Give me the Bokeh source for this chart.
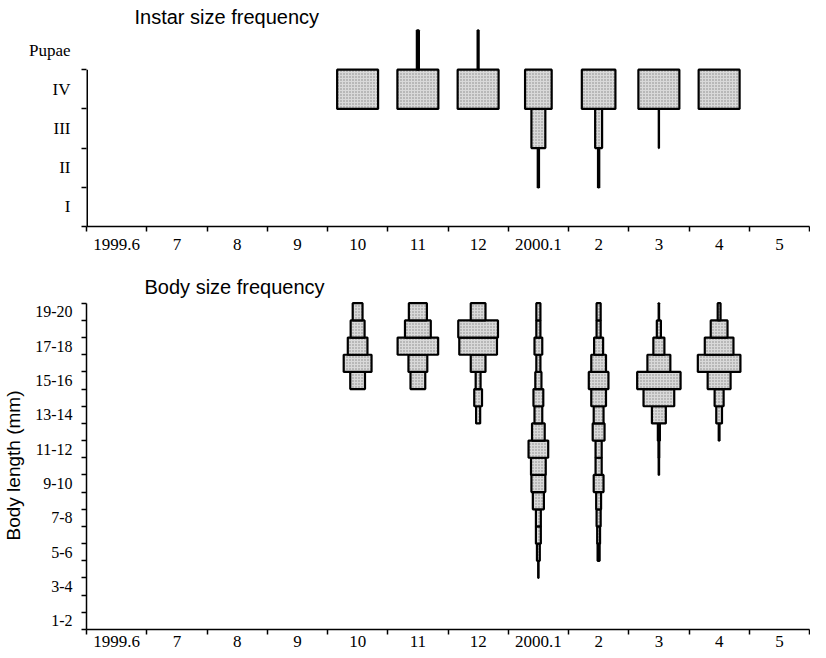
from bokeh.plotting import figure
from bokeh.models import FixedTicker, Range1d, ColumnDataSource
from bokeh.layouts import column
from bokeh.embed import file_html
from bokeh.resources import INLINE

# ---------------- data ----------------
month_labels = ["1999.6", "7", "8", "9", "10", "11", "12", "2000.1", "2", "3", "4", "5"]
sampled_months = ["10", "11", "12", "2000.1", "2", "3", "4"]

instar_labels = ["I", "II", "III", "IV", "Pupae"]
# instar frequency (%) in each sampled month
instar_I = [0, 0, 0, 0, 0, 0, 0]
instar_II = [0, 0, 0, 3, 3, 0, 0]
instar_III = [0, 0, 0, 34, 17, 0.5, 0]
instar_IV = [100, 100, 100, 65, 82, 100, 100]
instar_pupae = [0, 5, 2.5, 0, 0, 0, 0]

# body length classes (mm), lower bounds 1..19
body_bin_lower = list(range(1, 20))
body_tick_labels = ["1-2", "3-4", "5-6", "7-8", "9-10", "11-12", "13-14", "15-16", "17-18", "19-20"]
# frequency (%) per 1-mm class, ascending from 1-2 mm to 19-20 mm
body_oct = [0]*14 + [36, 68, 48, 34, 24]
body_nov = [0]*14 + [36, 46, 99, 63, 44]
body_dec = [0]*12 + [10, 19, 12, 36, 92, 97, 36]
body_jan = [0]*3 + [1, 7, 12, 12, 27, 34, 36, 48, 31, 19, 24, 15, 10, 19, 10, 10]
body_feb = [0]*4 + [5, 7, 10, 12, 24, 15, 15, 29, 24, 36, 48, 36, 22, 10, 10]
body_mar = [0]*9 + [1, 2, 5, 34, 75, 106, 56, 27, 10, 1]
body_apr = [0]*11 + [2, 14, 22, 56, 104, 70, 41, 7]
body_by_month = [body_oct, body_nov, body_dec, body_jan, body_feb, body_mar, body_apr]

WIDTH_PER_PCT = 0.0068   # month-widths per percent
FILL = "#d9d9d9"
SERIF = "Liberation Serif"
SANS = "Liberation Sans"


def month_center(m):
    return month_labels.index(m) + 0.5


def add_bars(p, left, right, bottom, top):
    src = ColumnDataSource(dict(left=left, right=right, bottom=bottom, top=top))
    p.quad(left="left", right="right", bottom="bottom", top="top", source=src,
           fill_color=FILL, line_color="black", line_width=2.2,
           hatch_pattern="dot", hatch_color="#444444", hatch_scale=3,
           hatch_weight=0.7, hatch_alpha=0.55)


def style(p, title, offset, standoff, size):
    p.grid.visible = False
    p.outline_line_color = None
    p.title.text = title
    p.title.align = "left"
    p.title.offset = offset
    p.title.standoff = standoff
    p.title.text_font = SANS
    p.title.text_font_size = size
    p.title.text_font_style = "normal"
    p.title.text_color = "black"
    for ax in (p.xaxis[0], p.yaxis[0]):
        ax.axis_line_width = 1.5
        ax.axis_line_color = "black"
        ax.major_tick_in = 0
        ax.major_tick_out = 0
        ax.minor_tick_in = 0
        ax.minor_tick_out = 5
        ax.minor_tick_line_width = 1.5
        ax.minor_tick_line_color = "black"
        ax.major_label_text_font = SERIF
        ax.major_label_text_font_size = "16px"
        ax.major_label_text_color = "black"
    xa = p.xaxis[0]
    xa.major_label_text_font_size = "17px"
    xa.ticker = FixedTicker(ticks=[i + 0.5 for i in range(len(month_labels))],
                            minor_ticks=list(range(len(month_labels) + 1)))
    xa.major_label_overrides = {i + 0.5: lab for i, lab in enumerate(month_labels)}


# ---------------- top: instar ----------------
p1 = figure(width=810, height=262, x_range=Range1d(0, 12), y_range=Range1d(0, 5.05),
            output_backend="svg", toolbar_location=None,
            min_border_left=79, min_border_right=1, min_border_top=28, min_border_bottom=36)
style(p1, "Instar size frequency", 48, 2, "20px")
p1.xaxis[0].major_label_standoff = 7
ya = p1.yaxis[0]
ya.ticker = FixedTicker(ticks=[0.5, 1.5, 2.5, 3.5, 4.5], minor_ticks=[0, 1, 2, 3, 4])
ya.major_label_overrides = {i + 0.5: lab for i, lab in enumerate(instar_labels)}
ya.major_label_text_font_size = "17px"
ya.major_label_standoff = 11
ya.axis_line_color = None
# y-axis line only up to instar IV
p1.segment(x0=[0], y0=[0], x1=[0], y1=[4], line_color="black", line_width=3)

levels = [instar_I, instar_II, instar_III, instar_IV, instar_pupae]
L, R, B, T = [], [], [], []
for k, series in enumerate(levels):
    for m, v in zip(sampled_months, series):
        if v > 0:
            c = month_center(m)
            w = v * WIDTH_PER_PCT / 2
            L.append(c - w); R.append(c + w); B.append(k); T.append(k + 1)
add_bars(p1, L, R, B, T)

# ---------------- bottom: body size ----------------
p2 = figure(width=810, height=388, x_range=Range1d(0, 12), y_range=Range1d(1, 20.1),
            output_backend="svg", toolbar_location=None,
            min_border_left=79, min_border_right=1, min_border_top=39, min_border_bottom=21)
style(p2, "Body size frequency", 58, 8, "20px")
p2.xaxis[0].major_label_standoff = 1
yb = p2.yaxis[0]
yb.ticker = FixedTicker(ticks=[1.5 + 2 * i for i in range(len(body_tick_labels))],
                        minor_ticks=list(range(1, 21)))
yb.major_label_overrides = {1.5 + 2 * i: lab for i, lab in enumerate(body_tick_labels)}
yb.bounds = (1, 20)
yb.major_label_standoff = 9
yb.axis_label = "Body length (mm)"
yb.axis_label_text_font = SANS
yb.axis_label_text_font_size = "19px"
yb.axis_label_text_font_style = "normal"
yb.axis_label_text_color = "black"
yb.axis_label_standoff = 8

L, R, B, T = [], [], [], []
for m, series in zip(sampled_months, body_by_month):
    c = month_center(m)
    for lo, v in zip(body_bin_lower, series):
        if v > 0:
            w = v * WIDTH_PER_PCT / 2
            L.append(c - w); R.append(c + w); B.append(lo); T.append(lo + 1)
add_bars(p2, L, R, B, T)

layout = column(p1, p2)
open("out.html", "w").write(file_html(layout, INLINE))
